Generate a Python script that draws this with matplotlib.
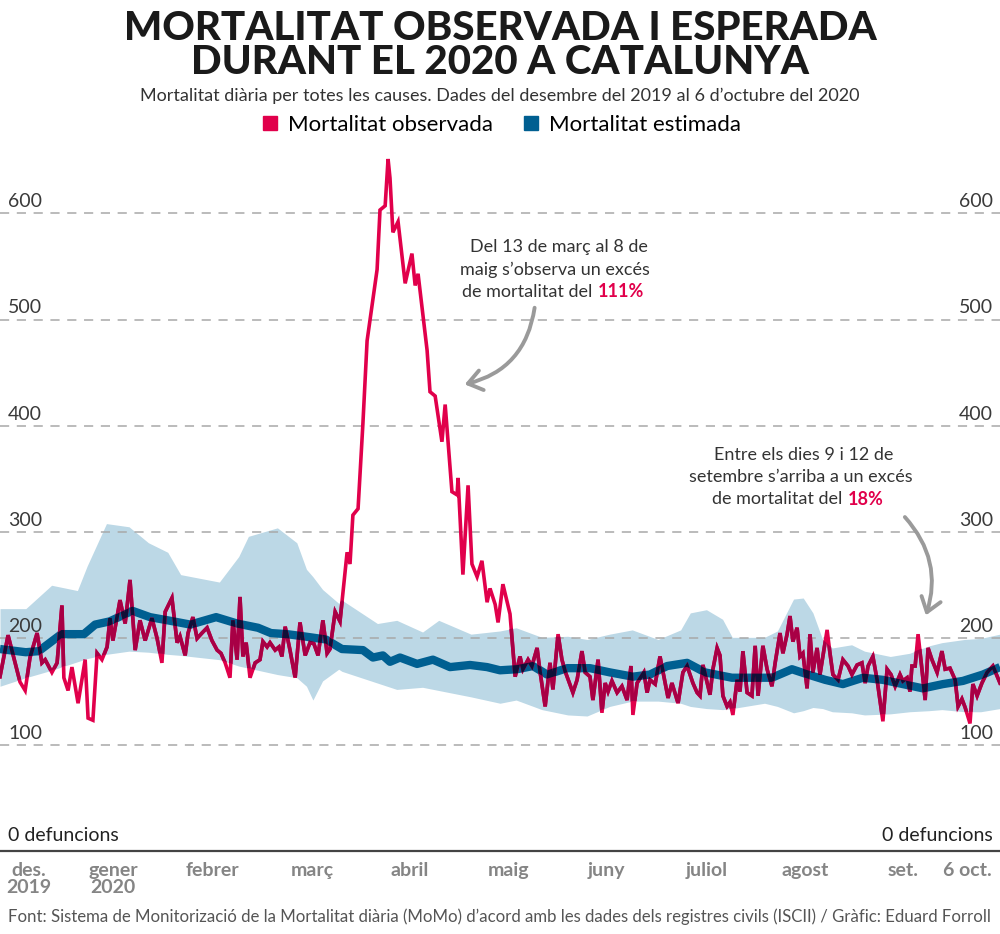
import matplotlib
matplotlib.use("Agg")
import matplotlib.pyplot as plt
from matplotlib.lines import Line2D
from matplotlib.patches import FancyArrowPatch

# days counted from the start of December 2019
obs_day = [0, 2.5, 6.2, 7.8, 9.3, 11.5, 13.0, 14.0, 16.1, 17.7, 19.2, 19.8, 21.1, 22.3, 24.2,
           26.4, 27.3, 28.8, 30.1, 31.6, 33.2, 34.1, 35.0, 37.2, 38.8, 40.3, 41.9, 43.4, 45.0,
           47.1, 48.7, 50.2, 51.2, 53.3, 54.9, 55.8, 57.4, 58.3, 59.8, 61.1, 62.6, 64.2, 65.7,
           67.3, 68.5, 69.8, 71.3, 72.2, 73.5, 74.4, 75.3, 76.3, 77.5, 79.1, 80.6, 81.5, 82.8,
           83.7, 85.3, 86.5, 87.4, 88.4, 89.9, 91.5, 93.0, 94.6, 96.1, 97.3, 98.6, 100.1, 101.4,
           102.3, 103.9, 105.4, 107.6, 108.5, 109.4, 111.0, 112.5, 113.8, 116.9, 117.8, 119.4,
           120.3, 120.9, 121.8, 123.4, 125.6, 127.7, 128.7, 129.6, 132.4, 133.3, 134.9, 137.0,
           138.0, 140.1, 141.7, 142.0, 143.5, 145.1, 146.3, 147.9, 149.4, 151.0, 151.9, 153.5,
           154.4, 155.9, 158.1, 159.7, 161.2, 162.1, 163.7, 164.9, 166.5, 167.4, 169.0, 170.5,
           171.4, 173.0, 174.2, 175.2, 177.6, 178.9, 180.4, 181.4, 182.9, 183.8, 185.4, 186.6,
           187.6, 188.5, 189.7, 191.3, 192.8, 194.4, 195.6, 196.2, 197.5, 199.6, 200.6, 201.5,
           203.1, 204.6, 206.2, 207.1, 208.3, 210.2, 211.7, 213.0, 214.8, 216.1, 217.0, 217.9,
           220.1, 221.0, 222.3, 223.2, 224.1, 225.4, 226.3, 227.2, 228.5, 229.4, 230.3, 231.6,
           233.1, 234.1, 235.0, 236.5, 237.8, 239.3, 240.3, 241.8, 242.7, 244.0, 244.9, 245.8,
           247.1, 248.0, 248.9, 250.2, 251.1, 252.0, 253.3, 254.2, 256.4, 257.3, 258.2, 259.8,
           261.3, 262.9, 264.1, 265.7, 267.2, 268.2, 269.1, 270.6, 271.9, 273.7, 275.0, 276.2,
           277.5, 279.0, 279.9, 281.2, 282.1, 282.7, 283.7, 284.6, 285.8, 286.8, 287.7, 288.9,
           290.5, 292.0, 293.0, 294.5, 296.1, 297.0, 298.2, 299.2, 300.7, 301.6, 302.9, 304.4,
           306.0, 307.8, 310]
obs_val = [164, 203, 159, 151, 182, 205, 177, 180, 168, 177, 231, 163, 151, 173, 139,
           180, 125, 123, 186, 180, 192, 219, 198, 236, 214, 255, 189, 217, 198,
           219, 200, 177, 225, 238, 196, 202, 184, 205, 220, 200, 205, 210, 198,
           189, 186, 177, 163, 217, 180, 239, 183, 196, 163, 177, 180, 197, 192,
           196, 189, 192, 183, 211, 189, 163, 215, 184, 196, 195, 184, 217, 186,
           190, 225, 216, 281, 270, 316, 322, 402, 480, 547, 603, 607,
           651, 633, 582, 592, 534, 562, 532, 543, 471, 432, 428, 385,
           420, 338, 335, 351, 260, 344, 270, 258, 273, 234, 247, 232,
           215, 251, 223, 164, 183, 171, 180, 174, 191, 169, 136, 177,
           152, 204, 180, 169, 149, 161, 188, 168, 164, 142, 180, 130,
           158, 150, 160, 149, 155, 142, 174, 128, 158, 168, 149, 161,
           157, 183, 158, 144, 158, 139, 168, 174, 158, 149, 146, 175,
           147, 171, 191, 184, 146, 136, 140, 128, 161, 150, 188, 149,
           146, 193, 146, 193, 171, 155, 177, 205, 186, 204, 221, 197,
           210, 183, 186, 153, 204, 168, 191, 166, 208, 186, 166, 161,
           180, 174, 166, 175, 177, 158, 174, 183, 161, 122, 171, 166,
           155, 166, 160, 163, 150, 174, 174, 204, 171, 142, 191, 180,
           168, 188, 171, 172, 161, 136, 143, 135, 120, 157, 146, 158,
           168, 174, 158]

est_day = [0, 8, 12, 15.5, 19, 26, 29.5, 34, 41, 46.5, 52, 59, 67, 73.5, 80, 84, 89, 94,
           101, 106, 112.5, 115.6, 118.7, 120.9, 124, 129.3, 134.2, 139.5, 145.7, 151, 155,
           160.3, 165.2, 169.6, 175.8, 182.9, 189.1, 196.2, 201.5, 206.8, 213, 218.6, 226.9,
           235, 239.3, 245.5, 250.5, 255.8, 261.3, 267.5, 273.7, 279.9, 286.1, 292.3, 298.5,
           304.7, 310]
est_val = [190, 187, 188, 196, 204, 204, 213, 216, 226, 220, 217, 213, 220, 214, 210, 205,
           204, 202, 199, 190, 189, 182, 184, 178, 182, 176, 180, 173, 175, 173, 170,
           171, 174, 166, 172, 172, 168, 164, 166, 174, 177, 168, 163,
           163, 163, 171, 166, 161, 157, 163, 161, 157, 153, 157, 160,
           166, 173]

band_day = [0, 8, 16, 24, 27, 33, 40, 46, 52, 56, 68, 74, 77, 86, 92, 95, 97, 100, 105, 106,
            117, 123, 131, 136, 146, 155, 160, 168, 176, 182, 189, 196, 204, 211, 214, 219,
            224, 227, 237, 241, 246, 249, 252, 255, 258, 264, 268, 276, 282, 288, 292, 299,
            304, 310]
band_high = [228, 228, 250, 245, 268, 308, 305, 290, 281, 260, 253, 277, 296, 304, 290, 265,
             258, 246, 233, 236, 214, 217, 206, 217, 204, 207, 210, 201, 202, 199, 204, 208,
             199, 208, 224, 227, 218, 201, 201, 207, 237, 238, 224, 199, 191, 194, 188, 183,
             186, 193, 196, 199, 200, 204]
band_low = [155, 163, 170, 178, 181, 185, 188, 187, 185, 184, 180, 174, 172, 166, 163, 155,
            142, 160, 171, 169, 158, 152, 154, 151, 145, 139, 142, 133, 128, 127, 136, 141,
            141, 139, 136, 134, 133, 134, 139, 136, 130, 132, 135, 134, 131, 130, 128, 129,
            131, 132, 133, 131, 131, 134]

month_day = [8.8, 35, 66, 96.7, 127, 157.5, 188, 219, 249.5, 280, 300]
month_lbl = ["des.\n2019", "gener\n2020", "febrer", "març", "abril", "maig", "juny",
             "juliol", "agost", "set.", "6 oct."]
grid_vals = [100, 200, 300, 400, 500, 600]

RED = "#e1004b"
RED_ON_BAND = "#a80045"
RED_ON_EST = "#101038"
BLUE = "#005f91"
BAND = "#bcd8e6"

plt.rcParams['font.family'] = ['Lato', 'DejaVu Sans']

fig = plt.figure(figsize=(10, 9.34), dpi=100)
ax = fig.add_axes([0, 83 / 934, 1, 660 * 1.063 / 934])
ax.set_xlim(0, 310)
ax.set_ylim(0, 660)
for s in ax.spines.values():
    s.set_visible(False)
ax.set_yticks([])
ax.set_xticks(month_day)
ax.set_xticklabels(month_lbl, fontsize=14, fontweight='bold', color='#858585',
                   linespacing=1.0)
ax.tick_params(axis='x', length=0, pad=8)

# band and grid
band = ax.fill_between(band_day, band_low, band_high, color=BAND, lw=0, zorder=1)
for v in grid_vals:
    ax.axhline(v, color='#a8a8a8', lw=1.1, ls=(0, (6, 5)), zorder=2)
    ax.text(0.008, v + 3, str(v), transform=ax.get_yaxis_transform(), ha='left',
            va='bottom', fontsize=14, color='#3a3a3a', zorder=6)
    ax.text(0.993, v + 3, str(v), transform=ax.get_yaxis_transform(), ha='right',
            va='bottom', fontsize=14, color='#3a3a3a', zorder=6)
ax.axhline(0, color='#444444', lw=1.6, zorder=2, clip_on=False)
ax.text(0.008, 7, "0 defuncions", transform=ax.get_yaxis_transform(), ha='left',
        va='bottom', fontsize=14, color='#222222')
ax.text(0.993, 7, "0 defuncions", transform=ax.get_yaxis_transform(), ha='right',
        va='bottom', fontsize=14, color='#222222')

# estimated line
ax.plot(est_day, est_val, color=BLUE, lw=6, solid_capstyle='butt', zorder=3)
est_strip = ax.fill_between(est_day, [v - 3.9 for v in est_val], [v + 3.9 for v in est_val],
                            lw=0, alpha=0)

# observed line, darkened where it crosses band and estimate (multiply look)
ax.plot(obs_day, obs_val, color=RED, lw=2.6, zorder=4, solid_joinstyle='miter')
l2, = ax.plot(obs_day, obs_val, color=RED_ON_BAND, lw=2.6, zorder=4.1, solid_joinstyle='miter')
l2.set_clip_path(band.get_paths()[0], ax.transData)
l3, = ax.plot(obs_day, obs_val, color=RED_ON_EST, lw=2.6, zorder=4.2, solid_joinstyle='miter')
l3.set_clip_path(est_strip.get_paths()[0], ax.transData)


def fx(x):
    return x / 1000


def fy(y):
    return 1 - y / 934


# titles
fig.text(0.5, fy(28), "MORTALITAT OBSERVADA I ESPERADA", ha='center', va='center',
         fontsize=29, fontweight='black', color='#1a1a1a')
fig.text(0.5, fy(63), "DURANT EL 2020 A CATALUNYA", ha='center', va='center',
         fontsize=29, fontweight='black', color='#1a1a1a')
fig.text(0.5, fy(96), "Mortalitat diària per totes les causes. Dades del desembre del 2019 al 6 d’octubre del 2020",
         ha='center', va='center', fontsize=13, color='#333333')

handles = [Line2D([], [], ls='', marker='s', markersize=10.5, color=RED),
           Line2D([], [], ls='', marker='s', markersize=10.5, color=BLUE)]
fig.legend(handles, ["Mortalitat observada", "Mortalitat estimada"], loc='center',
           bbox_to_anchor=(0.5, fy(125)), ncol=2, frameon=False, fontsize=16,
           handletextpad=0.3, columnspacing=1.2, handlelength=1.0)

# annotations
ann = dict(ha='center', va='center', fontsize=13, color='#333333')
fig.text(fx(559), fy(247), "Del 13 de març al 8 de", **ann)
fig.text(fx(555), fy(270), "maig s’observa un excés", **ann)
fig.text(fx(597), fy(292), "de mortalitat del ", ha='right', va='center', fontsize=13,
         color='#333333')
fig.text(fx(598), fy(292), "111%", ha='left', va='center', fontsize=13,
         fontweight='bold', color=RED)

fig.text(fx(804), fy(455), "Entre els dies 9 i 12 de", **ann)
fig.text(fx(801), fy(477), "setembre s’arriba a un excés", **ann)
fig.text(fx(847), fy(499), "de mortalitat del ", ha='right', va='center', fontsize=13,
         color='#333333')
fig.text(fx(848), fy(499), "18%", ha='left', va='center', fontsize=13,
         fontweight='bold', color=RED)

arrow = dict(arrowstyle='->,head_length=0.55,head_width=0.4', color='#9a9a9a', lw=2.8,
             mutation_scale=18, transform=fig.transFigure)
fig.add_artist(FancyArrowPatch((fx(535), fy(305)), (fx(462), fy(385)),
                               connectionstyle='arc3,rad=-0.35', **arrow))
fig.add_artist(FancyArrowPatch((fx(903), fy(515)), (fx(925), fy(618)),
                               connectionstyle='arc3,rad=-0.3', **arrow))

fig.text(fx(8), fy(917), "Font: Sistema de Monitorizació de la Mortalitat diària (MoMo) d’acord amb les dades dels registres civils (ISCII) / Gràfic: Eduard Forroll",
         ha='left', va='center', fontsize=12.1, color='#555555')

fig.savefig("out.png", dpi=100)
